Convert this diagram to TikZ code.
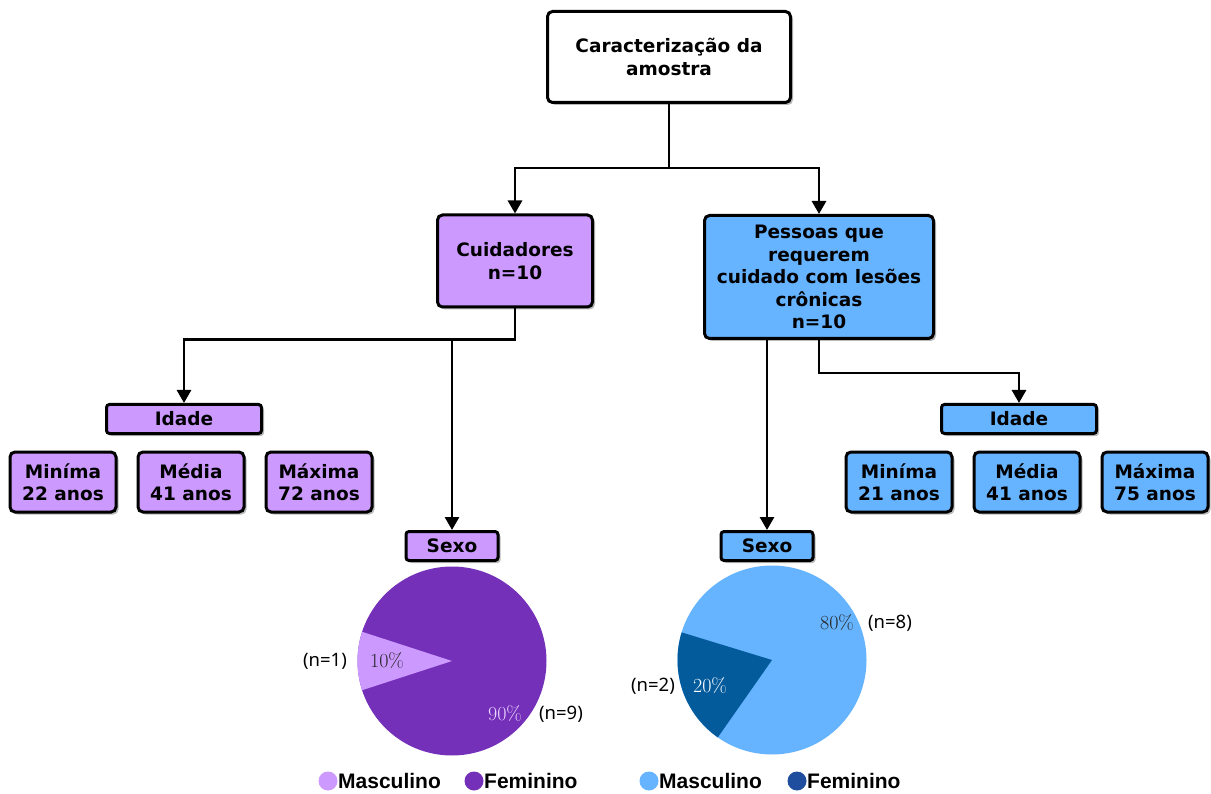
\documentclass[tikz,border=0pt]{standalone}
\usepackage{fontspec}
\newfontfamily\boxfont{DejaVu Sans}
\newfontfamily\legfont{Liberation Sans}
\newfontfamily\cntfont{Noto Sans}
\usetikzlibrary{arrows.meta,positioning,shadows}

\definecolor{purpleL}{HTML}{CC99FF}
\definecolor{purpleD}{HTML}{7430B9}
\definecolor{blueL}{HTML}{66B3FF}
\definecolor{blueD}{HTML}{045B9C}
\definecolor{blueLeg}{HTML}{1F4E9E}

\begin{document}
\begin{tikzpicture}[
  x=1pt,y=-1pt,
  box/.style={rounded corners=5pt,draw=black,line width=3pt,
    font=\boxfont\bfseries\fontsize{18.5}{22.5}\selectfont,align=center,inner sep=1pt,
    drop shadow={shadow xshift=2.5pt,shadow yshift=-2.5pt,fill=black!45,opacity=.6}},
  topbox/.style={box,fill=white,minimum width=243pt,minimum height=91pt},
  purplebox/.style={box,fill=purpleL},
  bluebox/.style={box,fill=blueL},
  headbox/.style={minimum width=155pt,minimum height=29pt,rounded corners=3pt},
  sexbox/.style={minimum width=92pt,minimum height=29pt,rounded corners=3pt},
  valbox/.style={minimum width=106pt,minimum height=60pt},
  flow/.style={-{Triangle[length=13pt,width=14pt]},draw=black,line width=2.8pt},
  link/.style={draw=black,line width=2.8pt},
  ncount/.style={font=\cntfont\fontsize{18.5}{20}\selectfont,inner sep=0pt},
  pct/.style={font=\fontsize{20}{22}\selectfont,inner sep=0pt},
  legend/.style={font=\legfont\bfseries\fontsize{21}{22}\selectfont,anchor=west,inner sep=0pt}
]
\useasboundingbox (0,0) rectangle (1211,794);

% boxes
\node[topbox] (top) at (669,57) {Caracterização da\\amostra};
\node[purplebox,minimum width=155pt,minimum height=92pt] (cuid) at (515,261) {Cuidadores\\n=10};
\node[bluebox,minimum width=229pt,minimum height=123pt] (pess) at (819,277)
  {Pessoas que\\requerem\\cuidado com lesões\\crônicas\\n=10};

\node[purplebox,headbox] (idadeL) at (184,419) {Idade};
\node[purplebox,valbox] (medL) at (191,482) {Média\\41 anos};
\node[purplebox,valbox,left=19pt of medL] (minL) {Miníma\\22 anos};
\node[purplebox,valbox,right=19pt of medL] (maxL) {Máxima\\72 anos};
\node[purplebox,sexbox] (sexoL) at (452,546) {Sexo};

\node[bluebox,headbox] (idadeR) at (1019,419) {Idade};
\node[bluebox,valbox] (medR) at (1027,482) {Média\\41 anos};
\node[bluebox,valbox,left=19pt of medR] (minR) {Miníma\\21 anos};
\node[bluebox,valbox,right=19pt of medR] (maxR) {Máxima\\75 anos};
\node[bluebox,sexbox] (sexoR) at (767,546) {Sexo};

% connectors
\coordinate (split) at (669,168);
\draw[link] (top.south) -- (split);
\draw[flow] (split) -| (cuid.north);
\draw[flow] (split) -| (pess.north);
\draw[flow] (cuid.south) -- ++(0,31) coordinate (cuidjoint) -| (idadeL.north);
\draw[flow] (sexoL.north |- cuidjoint) -- (sexoL.north);
\draw[flow] (sexoR.north |- pess.south) -- (sexoR.north);
\draw[flow] (pess.south) -- ++(0,33) -| (idadeR.north);

% pie charts
\coordinate (pieL) at (452,661);
\fill[purpleD] (pieL) circle[radius=94.5pt];
\fill[purpleL] (pieL) -- ++(162:94.5pt) arc[start angle=162,end angle=198,radius=94.5pt] -- cycle;
\node[pct,text=black!85] (pL1) at (387,661) {10\%};
\node[pct,text=purpleL!40] (pL2) at (505,714) {90\%};
\node[ncount] (nL1) at (325,661) {(n=1)};
\node[ncount] (nL2) at (561,714) {(n=9)};

\coordinate (pieR) at (772,660);
\fill[blueL] (pieR) circle[radius=94.5pt];
\fill[blueD] (pieR) -- ++(163:94.5pt) arc[start angle=163,end angle=235,radius=94.5pt] -- cycle;
\node[pct,text=black!85] (pR1) at (837,623) {80\%};
\node[pct,text=white] (pR2) at (710,686) {20\%};
\node[ncount] (nR1) at (890,623) {(n=8)};
\node[ncount] (nR2) at (653,686) {(n=2)};

% legends
\fill[purpleL] (328,781) circle[radius=9.5pt];
\node[legend] (legL1) at (338,781) {Masculino};
\fill[purpleD] (474,781) circle[radius=9.5pt];
\node[legend] (legL2) at (484,781) {Feminino};
\fill[blueL] (649,781) circle[radius=9.5pt];
\node[legend] (legR1) at (659,781) {Masculino};
\fill[blueLeg] (797,781) circle[radius=9.5pt];
\node[legend] (legR2) at (807,781) {Feminino};
\end{tikzpicture}
\end{document}
